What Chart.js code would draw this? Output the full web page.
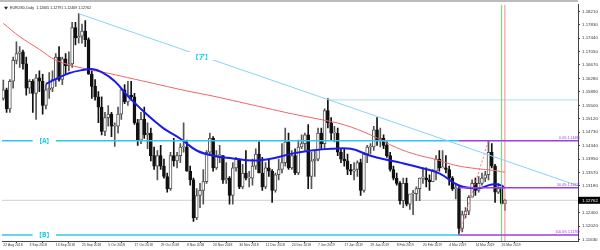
<!DOCTYPE html>
<html>
<head>
<meta charset="utf-8">
<script src="https://cdn.jsdelivr.net/npm/chart.js@4.4.1/dist/chart.umd.min.js"></script>
<style>
  html, body { margin: 0; padding: 0; background: #fff; }
  #wrap { width: 600px; height: 250px; }
</style>
</head>
<body>
<div id="wrap"><canvas id="chart" width="600" height="250"></canvas></div>
<script>
// EURUSD daily bars, 22 Aug 2018 .. 27 Mar 2019 (bar index 0..153)
const opens = [
  1.1570, 1.1595, 1.1540, 1.1620, 1.1680, 1.1700, 1.1705, 1.1670, 1.1600, 1.1620,
  1.1585, 1.1630, 1.1620, 1.1550, 1.1595, 1.1600, 1.1625, 1.1690, 1.1625, 1.1685,
  1.1665, 1.1670, 1.1775, 1.1745, 1.1750, 1.1765, 1.1740, 1.1640, 1.1605, 1.1575,
  1.1545, 1.1475, 1.1515, 1.1525, 1.1490, 1.1490, 1.1525, 1.1595, 1.1560, 1.1580,
  1.1575, 1.1500, 1.1450, 1.1510, 1.1465, 1.1470, 1.1405, 1.1375, 1.1405, 1.1375,
  1.1345, 1.1310, 1.1405, 1.1390, 1.1405, 1.1430, 1.1430, 1.1360, 1.1335, 1.1225,
  1.1290, 1.1305, 1.1330, 1.1415, 1.1455, 1.1370, 1.1405, 1.1405, 1.1335, 1.1340,
  1.1290, 1.1370, 1.1395, 1.1315, 1.1355, 1.1340, 1.1340, 1.1375, 1.1410, 1.1355,
  1.1315, 1.1370, 1.1360, 1.1305, 1.1350, 1.1365, 1.1385, 1.1445, 1.1370, 1.1405,
  1.1355, 1.1430, 1.1440, 1.1465, 1.1345, 1.1390, 1.1395, 1.1470, 1.1440, 1.1535,
  1.1500, 1.1470, 1.1470, 1.1415, 1.1395, 1.1390, 1.1365, 1.1360, 1.1365, 1.1385,
  1.1305, 1.1410, 1.1430, 1.1430, 1.1480, 1.1450, 1.1455, 1.1435, 1.1405, 1.1365,
  1.1340, 1.1325, 1.1275, 1.1325, 1.1265, 1.1295, 1.1295, 1.1310, 1.1340, 1.1340,
  1.1335, 1.1330, 1.1360, 1.1395, 1.1370, 1.1370, 1.1365, 1.1340, 1.1310, 1.1310,
  1.1195, 1.1235, 1.1245, 1.1285, 1.1325, 1.1305, 1.1325, 1.1340, 1.1350, 1.1415,
  1.1375, 1.1300, 1.1310, 1.12665
];
const highs = [
  1.1623, 1.1600, 1.1625, 1.1690, 1.1734, 1.1720, 1.1710, 1.1690, 1.1625, 1.1625,
  1.1640, 1.1650, 1.1640, 1.1610, 1.1645, 1.1650, 1.1700, 1.1720, 1.1690, 1.1700,
  1.1705, 1.1790, 1.1790, 1.1815, 1.1785, 1.1795, 1.1745, 1.1650, 1.1625, 1.1590,
  1.1575, 1.1530, 1.1550, 1.1530, 1.1500, 1.1545, 1.1600, 1.1610, 1.1620, 1.1620,
  1.1585, 1.1510, 1.1530, 1.1545, 1.1500, 1.1485, 1.1430, 1.1420, 1.1435, 1.1395,
  1.1355, 1.1415, 1.1455, 1.1415, 1.1440, 1.1500, 1.1450, 1.1375, 1.1340, 1.1310,
  1.1325, 1.1365, 1.1420, 1.1470, 1.1460, 1.1420, 1.1435, 1.1405, 1.1385, 1.1345,
  1.1385, 1.1400, 1.1395, 1.1380, 1.1420, 1.1360, 1.1395, 1.1425, 1.1445, 1.1400,
  1.1385, 1.1395, 1.1365, 1.1355, 1.1395, 1.1440, 1.1485, 1.1470, 1.1420, 1.1425,
  1.1450, 1.1465, 1.1470, 1.1495, 1.1415, 1.1420, 1.1485, 1.1485, 1.1540, 1.1570,
  1.1515, 1.1490, 1.1485, 1.1425, 1.1425, 1.1410, 1.1380, 1.1385, 1.1390, 1.1395,
  1.1415, 1.1435, 1.1440, 1.1490, 1.1515, 1.1485, 1.1465, 1.1445, 1.1415, 1.1375,
  1.1355, 1.1330, 1.1340, 1.1340, 1.1290, 1.1305, 1.1315, 1.1340, 1.1370, 1.1370,
  1.1350, 1.1365, 1.1405, 1.1420, 1.1420, 1.1405, 1.1375, 1.1345, 1.1325, 1.1320,
  1.1245, 1.1255, 1.1290, 1.1335, 1.1340, 1.1345, 1.1355, 1.1360, 1.1448, 1.1440,
  1.1380, 1.1325, 1.1315, 1.12791
];
const lows = [
  1.1565, 1.1530, 1.1530, 1.1600, 1.1670, 1.1660, 1.1655, 1.1580, 1.1585, 1.1530,
  1.1510, 1.1590, 1.1525, 1.1540, 1.1570, 1.1590, 1.1605, 1.1620, 1.1610, 1.1640,
  1.1650, 1.1660, 1.1725, 1.1730, 1.1730, 1.1720, 1.1640, 1.1570, 1.1565, 1.1500,
  1.1465, 1.1463, 1.1490, 1.1460, 1.1432, 1.1470, 1.1510, 1.1555, 1.1550, 1.1565,
  1.1495, 1.1435, 1.1440, 1.1455, 1.1425, 1.1390, 1.1365, 1.1335, 1.1365, 1.1340,
  1.1300, 1.1305, 1.1375, 1.1370, 1.1385, 1.1415, 1.1360, 1.1320, 1.1215, 1.1220,
  1.1255, 1.1265, 1.1325, 1.1405, 1.1360, 1.1365, 1.1385, 1.1325, 1.1325, 1.1265,
  1.1265, 1.1360, 1.1310, 1.1310, 1.1335, 1.1315, 1.1320, 1.1365, 1.1355, 1.1305,
  1.1310, 1.1345, 1.1270, 1.1300, 1.1335, 1.1355, 1.1375, 1.1365, 1.1365, 1.1350,
  1.1350, 1.1425, 1.1420, 1.1310, 1.1310, 1.1345, 1.1390, 1.1425, 1.1425, 1.1485,
  1.1450, 1.1445, 1.1405, 1.1385, 1.1375, 1.1350, 1.1350, 1.1335, 1.1345, 1.1290,
  1.1300, 1.1385, 1.1410, 1.1420, 1.1435, 1.1430, 1.1425, 1.1400, 1.1360, 1.1335,
  1.1320, 1.1265, 1.1255, 1.1260, 1.1250, 1.1235, 1.1275, 1.1275, 1.1325, 1.1315,
  1.1305, 1.1330, 1.1335, 1.1360, 1.1370, 1.1355, 1.1320, 1.1305, 1.1280, 1.1176,
  1.1185, 1.1225, 1.1235, 1.1285, 1.1290, 1.1300, 1.1320, 1.1330, 1.1335, 1.1370,
  1.1270, 1.1295, 1.1265, 1.12469
];
const closes = [
  1.1595, 1.1540, 1.1620, 1.1680, 1.1700, 1.1705, 1.1670, 1.1600, 1.1620, 1.1585,
  1.1630, 1.1620, 1.1550, 1.1595, 1.1600, 1.1625, 1.1690, 1.1625, 1.1685, 1.1665,
  1.1670, 1.1775, 1.1745, 1.1750, 1.1765, 1.1740, 1.1640, 1.1605, 1.1575, 1.1545,
  1.1475, 1.1515, 1.1525, 1.1490, 1.1490, 1.1525, 1.1595, 1.1560, 1.1580, 1.1575,
  1.1500, 1.1450, 1.1510, 1.1465, 1.1470, 1.1405, 1.1375, 1.1405, 1.1375, 1.1345,
  1.1310, 1.1405, 1.1390, 1.1405, 1.1430, 1.1430, 1.1360, 1.1335, 1.1225, 1.1290,
  1.1305, 1.1330, 1.1415, 1.1455, 1.1370, 1.1405, 1.1405, 1.1335, 1.1340, 1.1290,
  1.1370, 1.1395, 1.1315, 1.1355, 1.1340, 1.1340, 1.1375, 1.1410, 1.1355, 1.1315,
  1.1370, 1.1360, 1.1305, 1.1350, 1.1365, 1.1385, 1.1445, 1.1370, 1.1405, 1.1355,
  1.1430, 1.1440, 1.1465, 1.1345, 1.1390, 1.1395, 1.1470, 1.1440, 1.1535, 1.1500,
  1.1470, 1.1470, 1.1415, 1.1395, 1.1390, 1.1365, 1.1360, 1.1365, 1.1385, 1.1305,
  1.1410, 1.1430, 1.1430, 1.1480, 1.1450, 1.1455, 1.1435, 1.1405, 1.1365, 1.1340,
  1.1325, 1.1275, 1.1325, 1.1265, 1.1295, 1.1295, 1.1310, 1.1340, 1.1340, 1.1335,
  1.1330, 1.1360, 1.1395, 1.1370, 1.1370, 1.1365, 1.1340, 1.1310, 1.1310, 1.1195,
  1.1235, 1.1245, 1.1285, 1.1325, 1.1305, 1.1325, 1.1340, 1.1350, 1.1415, 1.1375,
  1.1300, 1.1310, 1.1267, 1.12762
];

// date labels, one every 8 bars
const xTickLabels = [
  "22 Aug 2018", "3 Sep 2018", "13 Sep 2018", "25 Sep 2018", "5 Oct 2018",
  "17 Oct 2018", "29 Oct 2018", "8 Nov 2018", "20 Nov 2018", "30 Nov 2018",
  "12 Dec 2018", "24 Dec 2018", "7 Jan 2019", "17 Jan 2019", "29 Jan 2019",
  "8 Feb 2019", "20 Feb 2019", "4 Mar 2019", "14 Mar 2019", "26 Mar 2019"
];
const barsPerLabel = 8;
const yTickLabels = [
  "1.18210", "1.17830", "1.17440", "1.17050", "1.16670", "1.16280", "1.15890",
  "1.15500", "1.15120", "1.14730", "1.14340", "1.13950", "1.13570", "1.13180",
  "1.12790", "1.12400", "1.12020", "1.11630"
];

// indicator lines (bar index -> price)
const redMaBars = [0, 5, 11, 16, 24, 32, 40, 48, 56, 64, 72, 80, 88, 96, 104, 112, 120, 126, 132, 138, 144, 150, 153];
const redMaValues = [1.1787, 1.1749, 1.1712, 1.1681, 1.1658, 1.1643, 1.1626, 1.1609, 1.1592, 1.1577, 1.1560, 1.1543, 1.1526, 1.1511, 1.1494, 1.1465, 1.1428, 1.1408, 1.1394, 1.1377, 1.1368, 1.1362, 1.1357];
const blueMaBars = [13, 16, 20, 24, 27, 30, 34, 38, 42, 46, 49, 54, 59, 64, 70, 76, 82, 88, 94, 100, 106, 112, 118, 121, 127, 133, 139, 145, 149, 152, 153];
const blueMaValues = [1.1612, 1.1626, 1.1643, 1.1652, 1.1655, 1.1646, 1.1620, 1.1577, 1.1540, 1.1506, 1.1483, 1.1454, 1.1420, 1.1405, 1.1397, 1.1391, 1.1397, 1.1411, 1.1420, 1.1425, 1.1425, 1.1405, 1.1391, 1.1385, 1.1371, 1.1354, 1.1319, 1.1311, 1.1322, 1.1319, 1.1311];

// drawn objects
const trendBars = [23, 176];
const trendValues = [1.1815, 1.1316];
const levelA = 1.14480;
const levelB = 1.11762;
const janHighBar = 99;
const janHigh = 1.1566;
const fibBars = [139, 148];
const fibLevels = ["0.0", "50.0", "100.0"];
const fibPrices = [1.14480, 1.13121, 1.11762];
const greenLineBar = 152;
const redLineBar = 153;

const xMin = -0.4, xMax = 175.3;
const yMin = 1.11587, yMax = 1.18411;

const last = closes.length - 1;
const bidPrice = closes[last];
const headerText = "EURUSD,Daily  " + [opens[last], highs[last], lows[last], closes[last]].map(v => v.toFixed(5)).join(" ");

function pts(xs, ys) {
  return xs.map((x, i) => ({ x: x, y: ys[i] }));
}

function segment(color, data, width, extra) {
  return Object.assign({
    type: "line", data: data, borderColor: color, borderWidth: width,
    pointRadius: 0, tension: 0, order: 1
  }, extra || {});
}

const isUp = i => closes[i] >= opens[i];

// labels, fib captions, header and price box
const overlay = {
  id: "overlay",
  afterDatasetsDraw(chart) {
    const { ctx, chartArea: area, scales: { x, y } } = chart;
    ctx.save();

    function tag(text, bar, price) {
      ctx.font = "bold 6.5px 'Noto Sans CJK JP'";
      const w = ctx.measureText(text).width;
      const px = x.getPixelForValue(bar), py = y.getPixelForValue(price);
      ctx.fillStyle = "#fff";
      ctx.fillRect(px - w / 2 - 3, py - 4, w + 6, 8);
      ctx.fillStyle = "#00ccee";
      ctx.textAlign = "center";
      ctx.textBaseline = "middle";
      ctx.fillText(text, px, py);
    }
    tag("【A】", 12.5, levelA);
    tag("【B】", 12.5, levelB);
    const tagBar = 60.5;
    const slope = (trendValues[1] - trendValues[0]) / (trendBars[1] - trendBars[0]);
    tag("【ア】", tagBar, trendValues[0] + slope * (tagBar - trendBars[0]));

    ctx.font = "3.4px 'Liberation Sans'";
    ctx.fillStyle = "#9933ee";
    ctx.textAlign = "right";
    ctx.textBaseline = "bottom";
    fibPrices.forEach((p, i) => {
      ctx.fillText(fibLevels[i] + "% " + p.toFixed(5), area.right + 2, y.getPixelForValue(p) - 1);
    });

    ctx.font = "3.6px 'Liberation Sans'";
    ctx.fillStyle = "#222";
    ctx.textAlign = "left";
    ctx.textBaseline = "middle";
    ctx.fillText(headerText, area.left + 8, area.top + 3);
    ctx.beginPath();
    ctx.moveTo(area.left + 2, area.top + 2);
    ctx.lineTo(area.left + 6, area.top + 2);
    ctx.lineTo(area.left + 4, area.top + 5);
    ctx.closePath();
    ctx.fill();

    const by = y.getPixelForValue(bidPrice);
    ctx.fillStyle = "#000";
    ctx.fillRect(area.right, by - 3.5, chart.width - area.right, 7);
    ctx.fillStyle = "#fff";
    ctx.font = "4.4px 'Liberation Sans'";
    ctx.fillText(bidPrice.toFixed(5), area.right + 4, by);

    ctx.strokeStyle = "#bbb";
    ctx.lineWidth = 2;
    ctx.beginPath();
    ctx.moveTo(0, 1);
    ctx.lineTo(area.right, 1);
    ctx.stroke();
    ctx.restore();
  }
};

function createChart() {
  const bars = closes.map((c, i) => i);
  const ctx = document.getElementById("chart").getContext("2d");

  new Chart(ctx, {
    type: "bar",
    data: {
      datasets: [
        {
          data: bars.map(i => ({ x: i, y: [lows[i], highs[i]] })),
          barThickness: 1,
          grouped: false,
          backgroundColor: c => isUp(c.dataIndex) ? "#555" : "#111",
          order: 10
        },
        {
          data: bars.map(i => ({ x: i, y: [opens[i], closes[i]] })),
          barThickness: 3,
          grouped: false,
          minBarLength: 1,
          borderSkipped: false,
          borderWidth: 1,
          backgroundColor: c => isUp(c.dataIndex) ? "#fff" : "#111",
          borderColor: c => isUp(c.dataIndex) ? "#555" : "#111",
          order: 9
        },
        segment("#ee6666", pts(redMaBars, redMaValues), 1, { tension: 0.4, order: 5 }),
        segment("#1a1aee", pts(blueMaBars, blueMaValues), 2, { tension: 0.4, order: 4 }),
        segment("#88d4f2", pts(trendBars, trendValues), 1),
        segment("#b0dcec", pts([janHighBar, xMax], [janHigh, janHigh]), 1, { order: 15 }),
        segment("#33c4ee", pts([xMin, fibBars[0]], [levelA, levelA]), 1.5),
        segment("#33c4ee", pts([xMin, fibBars[0]], [levelB, levelB]), 1.5),
        ...fibPrices.map(p => segment("#9a3ee6", pts([fibBars[0], xMax], [p, p]), 1.5)),
        segment("#ff7070", pts(fibBars, [fibPrices[2], fibPrices[0]]), 1, { borderDash: [2, 2] }),
        segment("#66dd66", pts([greenLineBar, greenLineBar], [yMin, yMax]), 1),
        segment("#ff8888", pts([redLineBar, redLineBar], [yMin, yMax]), 1),
        segment("#d0d0d0", pts([xMin, xMax], [bidPrice, bidPrice]), 1, { order: 20 })
      ]
    },
    options: {
      responsive: false,
      animation: false,
      events: [],
      layout: { padding: { left: 2, top: 3, right: 0, bottom: 0 } },
      plugins: { legend: { display: false }, tooltip: { enabled: false } },
      scales: {
        x: {
          type: "linear",
          min: xMin,
          max: xMax,
          offset: false,
          grid: { display: true, drawOnChartArea: false, tickLength: 2, color: "#444" },
          border: { color: "#444" },
          afterBuildTicks: scale => {
            scale.ticks = xTickLabels.map((_, i) => ({ value: i * barsPerLabel }));
          },
          afterFit: scale => { scale.height = 9; },
          ticks: {
            autoSkip: false,
            maxRotation: 0,
            align: "start",
            padding: 0,
            color: "#333",
            font: { size: 3.4, family: "'Liberation Sans'" },
            callback: v => xTickLabels[Math.round(v / barsPerLabel)]
          }
        },
        y: {
          type: "linear",
          position: "right",
          min: yMin,
          max: yMax,
          grid: { display: true, drawOnChartArea: false, tickLength: 2, color: "#444" },
          border: { color: "#444" },
          afterBuildTicks: scale => {
            scale.ticks = yTickLabels.map(t => ({ value: parseFloat(t) }));
          },
          afterFit: scale => { scale.width = 22; },
          ticks: {
            padding: 2,
            color: "#333",
            font: { size: 4.4, family: "'Liberation Sans'" },
            callback: (v, i) => yTickLabels[i]
          }
        }
      }
    },
    plugins: [overlay]
  });
}

createChart();
</script>
</body>
</html>
